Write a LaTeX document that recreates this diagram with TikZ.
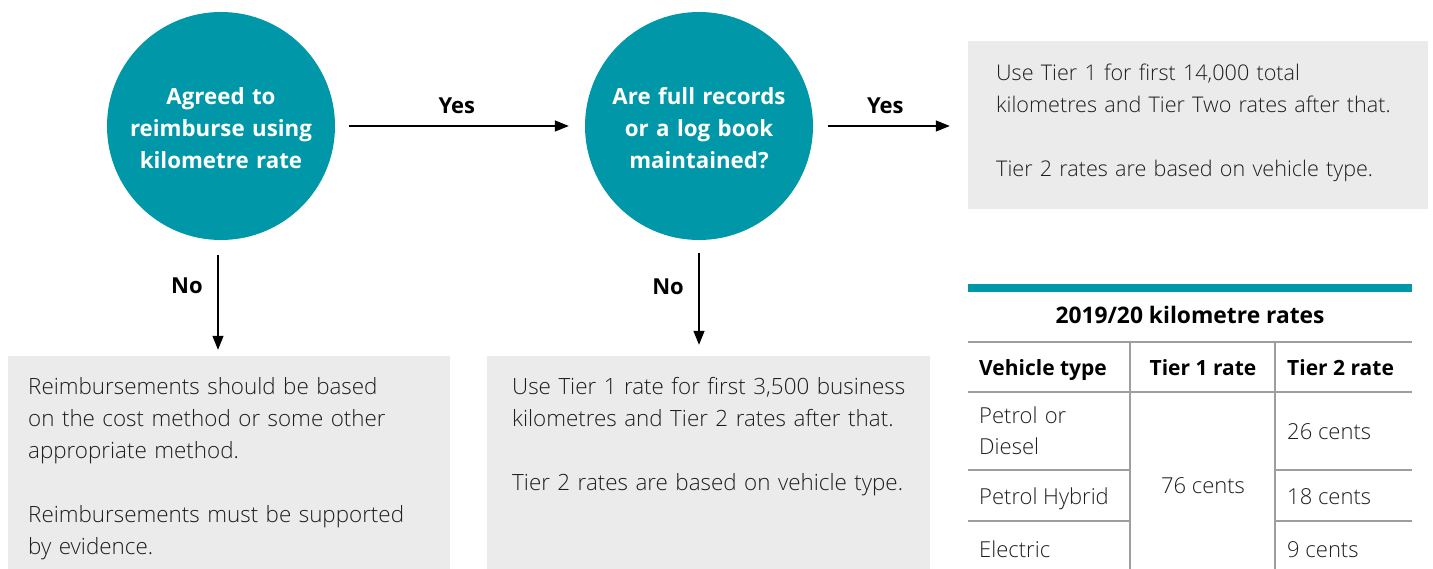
\documentclass[tikz,border=0pt]{standalone}
\usepackage{fontspec}
\setmainfont{Open Sans}[UprightFont={* Light}, BoldFont={* Bold}]
\usetikzlibrary{arrows.meta}
\definecolor{teal}{HTML}{0098A8}
\definecolor{panel}{HTML}{EBEBEB}
\definecolor{ink}{HTML}{1E1E1E}
\definecolor{rule}{HTML}{9E9E9E}
\tikzset{
  decision/.style={circle, fill=teal, draw=none, minimum size=228pt, inner sep=0pt},
  decisiontext/.style={text=white, font=\fontsize{22.3}{32}\selectfont\bfseries, text width=240pt, align=center, anchor=base, inner sep=0pt},
  panelbox/.style={rectangle, fill=panel, draw=none, inner sep=0pt},
  paneltext/.style={text=ink, font=\fontsize{22.4}{32}\selectfont, text width=450pt, align=left, anchor=base west, inner sep=0pt},
  flow/.style={draw=black, line width=1.3pt, -{Triangle[length=14pt,width=11pt]}},
  flowlabel/.style={font=\fontsize{22}{26}\selectfont\bfseries, text=black, anchor=base, inner sep=0pt},
  grid/.style={draw=rule, line width=1.4pt},
  cell/.style={font=\fontsize{22}{32}\selectfont, text=ink, inner sep=0pt},
  headcell/.style={font=\fontsize{21}{26}\selectfont\bfseries, text=black, inner sep=0pt}
}
\begin{document}
\begin{tikzpicture}[x=1pt, y=-1pt]
\useasboundingbox (0,0) rectangle (1433,569);

% decisions
\node[decision] (c1) at (221,126) {};
\node[decisiontext] (c1t) at (221,105) {Agreed to\\reimburse using\\kilometre rate};
\node[decision] (c2) at (699,126) {};
\node[decisiontext] (c2t) at (699,105) {Are full records\\or a log book\\maintained?};

% outcome panels
\node[panelbox, minimum width=442pt, minimum height=213pt] (b1) at (229,462.5) {};
\node[paneltext] (b1t) at (28,395) {Reimbursements should be based\\on the cost method or some other\\appropriate method.\\[32pt]Reimbursements must be supported\\by evidence.};
\node[panelbox, minimum width=443pt, minimum height=213pt] (b2) at (708.5,462.5) {};
\node[paneltext] (b2t) at (512,395) {Use Tier 1 rate for first 3,500 business\\kilometres and Tier 2 rates after that.\\[32pt]Tier 2 rates are based on vehicle type.};
\node[panelbox, minimum width=460pt, minimum height=168pt] (b3) at (1198,125) {};
\node[paneltext, font=\fontsize{21.6}{32}\selectfont] (b3t) at (996,81) {Use Tier 1 for first 14,000 total\\kilometres and Tier Two rates after that.\\[32pt]Tier 2 rates are based on vehicle type.};

% connectors
\draw[flow] ([xshift=14pt]c1.east) -- ([xshift=-16pt]c2.west) node[flowlabel, pos=0.49, yshift=12pt] (y1) {Yes};
\draw[flow] ([xshift=15pt]c2.east) -- ([xshift=-18pt]b3.west |- c2.east) node[flowlabel, pos=0.47, yshift=12pt] (y2) {Yes};
\coordinate (d1a) at ([xshift=-3pt,yshift=-15pt]c1.south);
\coordinate (d1b) at (d1a |- b1.north);
\draw[flow] (d1a) -- ([yshift=6pt]d1b) node[flowlabel, pos=0.41, xshift=-31pt] (n1) {No};
\coordinate (d2a) at ([yshift=-13pt]c2.south);
\coordinate (d2b) at (d2a |- b2.north);
\draw[flow] (d2a) -- ([yshift=11pt]d2b) node[flowlabel, pos=0.45, xshift=-31pt] (n2) {No};

% rate table
\fill[teal] (968,284) rectangle (1412,292);
\node[headcell, font=\fontsize{22.8}{26}\selectfont\bfseries, anchor=base] (title) at (1190,324) {2019/20 kilometre rates};
\draw[grid] (968,342) -- (1412,342);
\draw[grid] (968,392) -- (1412,392);
\draw[grid] (968,470) -- (1130,470);
\draw[grid] (1275,470) -- (1412,470);
\draw[grid] (968,521) -- (1130,521);
\draw[grid] (1275,521) -- (1412,521);
\draw[grid] (1130,342) -- (1130,569);
\draw[grid] (1275,342) -- (1275,569);
\node[headcell, anchor=base west] (h1) at (979,375) {Vehicle type};
\node[headcell, anchor=base] (h2) at (1203,375) {Tier 1 rate};
\node[headcell, anchor=base west] (h3) at (1287,375) {Tier 2 rate};
\node[cell, anchor=base west, text width=140pt, align=left] (r1) at (979,423) {Petrol or\\Diesel};
\node[cell, anchor=base west] (r2) at (979,504) {Petrol Hybrid};
\node[cell, anchor=base west] (r3) at (979,557) {Electric};
\node[cell, anchor=base] (t1) at (1203,493) {76 cents};
\node[cell, anchor=base west] (s1) at (1287,439) {26 cents};
\node[cell, anchor=base west] (s2) at (1287,504) {18 cents};
\node[cell, anchor=base west] (s3) at (1287,557) {9 cents};
\end{tikzpicture}
\end{document}
